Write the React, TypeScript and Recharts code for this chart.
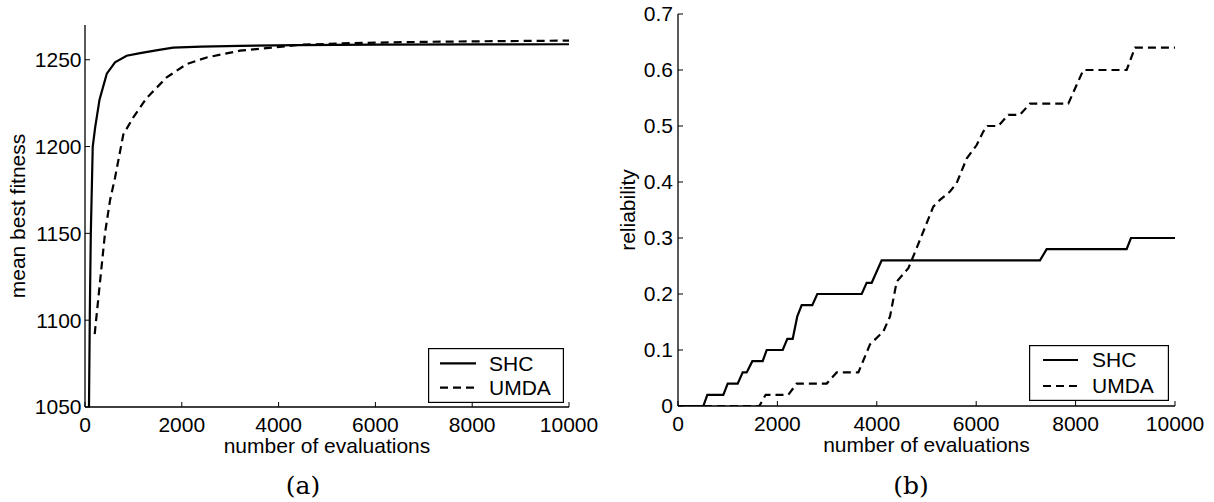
import React from 'react';
import { LineChart, Line, XAxis, YAxis, Legend } from 'recharts';

// ---------- data ----------
const evalTicks = [0, 2000, 4000, 6000, 8000, 10000];
const fitnessTicks = [1050, 1100, 1150, 1200, 1250];
const reliabilityTicks = [0, 0.1, 0.2, 0.3, 0.4, 0.5, 0.6, 0.7];
const seriesNames = ['SHC', 'UMDA'];

// (a) mean best fitness
const shcEvalsA = [50, 100, 120, 160, 210, 300, 450, 620, 860, 1140, 1500, 1820, 2400, 3200, 4400, 6000, 8000, 10000];
const shcFitness = [950, 1105, 1150, 1200, 1211, 1227, 1242, 1248.5, 1252.3, 1253.8, 1255.5, 1257, 1257.5, 1258, 1258.4, 1258.7, 1258.8, 1258.9];
const umdaEvalsA = [200, 413, 517, 620, 792, 998, 1274, 1687, 2100, 2514, 3202, 4442, 5500, 7000, 8500, 10000];
const umdaFitness = [1092, 1150, 1169, 1182, 1207, 1216.8, 1228, 1239.8, 1247.5, 1251.3, 1255.2, 1258.6, 1259.6, 1260.3, 1260.7, 1261];

// (b) reliability
const shcEvalsB = [0, 510, 590, 912, 1000, 1201, 1302, 1382, 1496, 1704, 1785, 2107, 2200, 2308, 2400, 2489, 2702, 2803, 3696, 3796, 3897, 4098, 7283, 7418, 9027, 9114, 10000];
const shcReliability = [0, 0, 0.02, 0.02, 0.04, 0.04, 0.06, 0.06, 0.08, 0.08, 0.1, 0.1, 0.12, 0.12, 0.16, 0.18, 0.18, 0.2, 0.2, 0.22, 0.22, 0.26, 0.26, 0.28, 0.28, 0.3, 0.3];
const umdaEvalsB = [0, 1636, 1764, 2220, 2388, 2992, 3193, 3629, 3863, 4131, 4266, 4400, 4635, 4802, 5137, 5271, 5473, 5607, 5808, 6010, 6143, 6224, 6445, 6646, 6881, 7082, 7853, 8155, 9027, 9195, 10000];
const umdaReliability = [0, 0, 0.02, 0.02, 0.04, 0.04, 0.06, 0.06, 0.11, 0.133, 0.16, 0.222, 0.246, 0.282, 0.356, 0.368, 0.383, 0.398, 0.442, 0.466, 0.49, 0.5, 0.5, 0.52, 0.52, 0.54, 0.54, 0.6, 0.6, 0.64, 0.64];

const zip = (xs: number[], ys: number[]) => xs.map((x, i) => ({ x, y: ys[i] }));

// ---------- styling helpers ----------
const FONT = '"Liberation Sans", Arial, Helvetica, sans-serif';
const SERIF = '"DejaVu Serif", "Liberation Serif", serif';
const FS = 21;
const TICK = 5;
const LW = 2.2;
const seriesDash: Record<string, string | undefined> = { SHC: undefined, UMDA: '8 5' };

const BottomTick = (props: any) => {
  const { x, y, payload } = props;
  return (
    <g>
      <line x1={x} x2={x} y1={y} y2={y - TICK} stroke="#000" strokeWidth={1} />
      <text x={x} y={y + 10} dy="0.71em" textAnchor="middle" fontFamily={FONT} fontSize={FS} fill="#000">
        {String(payload.value)}
      </text>
    </g>
  );
};
const TopTick = (props: any) => {
  const { x, y } = props;
  return <line x1={x} x2={x} y1={y} y2={y + TICK} stroke="#000" strokeWidth={1} />;
};
const RightTick = (props: any) => {
  const { x, y } = props;
  return <line x1={x} x2={x - TICK} y1={y} y2={y} stroke="#000" strokeWidth={1} />;
};
const makeLeftTick = (gap: number) => (props: any) => {
  const { x, y, payload } = props;
  return (
    <g>
      <line x1={x} x2={x + TICK} y1={y} y2={y} stroke="#000" strokeWidth={1} />
      <text x={x - gap} y={y} dy="0.355em" textAnchor="end" fontFamily={FONT} fontSize={FS} fill="#000">
        {String(payload.value)}
      </text>
    </g>
  );
};

const makeLegend = (w: number, h: number, lx1: number, lx2: number, tx: number, rows: number[]) => (props: any) => {
  const payload = (props && props.payload) || [];
  const entries = seriesNames.map((n) => payload.find((p: any) => p.value === n) || { value: n });
  return (
    <svg width={w} height={h} style={{ display: 'block' }}>
      <rect x={0.6} y={0.6} width={w - 1.2} height={h - 1.2} fill="#fff" stroke="#000" strokeWidth={1.2} />
      {entries.map((e: any, i: number) => (
        <g key={e.value}>
          <line x1={lx1} x2={lx2} y1={rows[i]} y2={rows[i]} stroke="#000" strokeWidth={LW} strokeDasharray={seriesDash[e.value]} />
          <text x={tx} y={rows[i]} dy="0.355em" fontFamily={FONT} fontSize={FS} fill="#000">{e.value}</text>
        </g>
      ))}
    </svg>
  );
};

const axisLine = { stroke: '#000', strokeWidth: 1.3 };
const labelStyle = { fontFamily: FONT, fontSize: FS, fill: '#000' };

const FitnessChart = () => (
  <LineChart width={600} height={502} margin={{ top: 25, right: 31, left: 0, bottom: 65 }}>
    <XAxis dataKey="x" type="number" domain={[0, 10000]} ticks={evalTicks} allowDataOverflow
      height={30} tickSize={0} tickMargin={0} tickLine={false} axisLine={axisLine} tick={BottomTick} interval={0}
      label={{ value: 'number of evaluations', position: 'bottom', offset: 1, style: labelStyle }} />
    <XAxis xAxisId="top" orientation="top" dataKey="x" type="number" domain={[0, 10000]} ticks={evalTicks} allowDataOverflow
      height={0} tickSize={0} tickMargin={0} tickLine={false} axisLine={axisLine} tick={TopTick} interval={0} />
    <YAxis dataKey="y" type="number" domain={[1050, 1270]} ticks={fitnessTicks} allowDataOverflow
      width={85} tickSize={0} tickMargin={0} tickLine={false} axisLine={axisLine} tick={makeLeftTick(3.5)} interval={0}
      label={{ value: 'mean best fitness', angle: -90, position: 'insideLeft', offset: 18, style: { ...labelStyle, textAnchor: 'middle' } }} />
    <YAxis yAxisId="right" orientation="right" type="number" domain={[1050, 1270]} ticks={fitnessTicks} allowDataOverflow
      width={0} tickSize={0} tickMargin={0} tickLine={false} axisLine={axisLine} tick={RightTick} interval={0} />
    <Line data={zip(shcEvalsA, shcFitness)} dataKey="y" name={seriesNames[0]} type="linear" stroke="#000" strokeWidth={LW} dot={false} isAnimationActive={false} />
    <Line data={zip(umdaEvalsA, umdaFitness)} dataKey="y" name={seriesNames[1]} type="linear" stroke="#000" strokeWidth={LW} strokeDasharray="8 5" dot={false} isAnimationActive={false} />
    <Legend layout="horizontal" verticalAlign="middle" align="center"
      wrapperStyle={{ left: 428, top: 348, width: 136, height: 55 }}
      content={makeLegend(136, 55, 12, 48, 61, [15.3, 39.7])} />
  </LineChart>
);

const ReliabilityChart = () => (
  <LineChart width={614} height={502} margin={{ top: 14, right: 39, left: 0, bottom: 66 }}>
    <XAxis dataKey="x" type="number" domain={[0, 10000]} ticks={evalTicks} allowDataOverflow
      height={30} tickSize={0} tickMargin={0} tickLine={false} axisLine={axisLine} tick={BottomTick} interval={0}
      label={{ value: 'number of evaluations', position: 'bottom', offset: 1, style: labelStyle }} />
    <XAxis xAxisId="top" orientation="top" dataKey="x" type="number" domain={[0, 10000]} ticks={evalTicks} allowDataOverflow
      height={0} tickSize={0} tickMargin={0} tickLine={false} axisLine={axisLine} tick={TopTick} interval={0} />
    <YAxis dataKey="y" type="number" domain={[0, 0.7]} ticks={reliabilityTicks} allowDataOverflow
      width={78} tickSize={0} tickMargin={0} tickLine={false} axisLine={axisLine} tick={makeLeftTick(5)} interval={0}
      label={{ value: 'reliability', angle: -90, position: 'insideLeft', offset: 28, style: { ...labelStyle, textAnchor: 'middle' } }} />
    <YAxis yAxisId="right" orientation="right" type="number" domain={[0, 0.7]} ticks={reliabilityTicks} allowDataOverflow
      width={0} tickSize={0} tickMargin={0} tickLine={false} axisLine={axisLine} tick={RightTick} interval={0} />
    <Line data={zip(shcEvalsB, shcReliability)} dataKey="y" name={seriesNames[0]} type="linear" stroke="#000" strokeWidth={LW} dot={false} isAnimationActive={false} />
    <Line data={zip(umdaEvalsB, umdaReliability)} dataKey="y" name={seriesNames[1]} type="linear" stroke="#000" strokeWidth={LW} strokeDasharray="8 5" dot={false} isAnimationActive={false} />
    <Legend layout="horizontal" verticalAlign="middle" align="center"
      wrapperStyle={{ left: 429, top: 345, width: 140, height: 56 }}
      content={makeLegend(140, 56, 14, 49, 63, [15, 41])} />
  </LineChart>
);

const captionStyle = (center: number): React.CSSProperties => ({
  position: 'absolute', left: center - 50, top: 473, width: 100, textAlign: 'center',
  fontFamily: SERIF, fontSize: 25, lineHeight: '25px', color: '#000',
});

export default function App() {
  return (
    <div style={{ position: 'absolute', left: 0, top: 0, width: 1214, height: 502, background: '#fff', overflow: 'hidden' }}>
      <div style={{ position: 'absolute', left: 0, top: 0 }}>
        <FitnessChart />
      </div>
      <div style={{ position: 'absolute', left: 600, top: 0 }}>
        <ReliabilityChart />
      </div>
      <div style={captionStyle(303)}>(a)</div>
      <div style={captionStyle(911)}>(b)</div>
    </div>
  );
}
